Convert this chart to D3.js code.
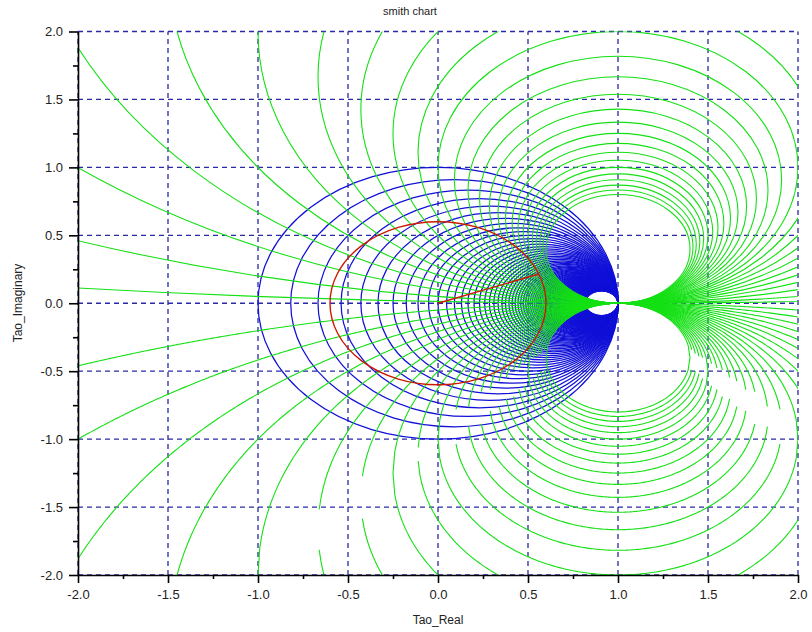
<!DOCTYPE html>
<html><head><meta charset="utf-8">
<script src="https://cdn.jsdelivr.net/npm/d3@7"></script>
<style>
body{margin:0;background:#fff;}
text{font-family:"Liberation Sans",Arial,Helvetica,sans-serif;}
</style>
</head><body>
<svg id="chart" width="812" height="632"></svg>
<script>
// ---- data ----
const resistanceValues = [0,0.1,0.2,0.3,0.4,0.5,0.6,0.7,0.8,0.9,
1,1.1,1.2,1.3,1.4,1.5,1.6,1.7,1.8,1.9,2,2.1,2.2,2.3,2.4,2.5,2.6,2.7,2.8,2.9,
3,3.1,3.2,3.3,3.4,3.5,3.6,3.7,3.8,3.9,4,4.1,4.2,4.3,4.4,4.5,4.6,4.7,4.8,4.9,
5,5.1,5.2,5.3,5.4,5.5,5.6,5.7,5.8,5.9,6,6.1,6.2,6.3,6.4,6.5,6.6,6.7,6.8,6.9,
7,7.1,7.2,7.3,7.4,7.5,7.6,7.7,7.8,7.9,8,8.1,8.2,8.3,8.4,8.5,8.6,8.7,8.8,8.9,
9,9.1,9.2,9.3,9.4,9.5,9.6,9.7,9.8,9.9,10];
const reactancePositive = [0.025,0.1,0.2,0.3,0.4,0.5,0.6,0.7,0.8,0.9,
1,1.1,1.2,1.3,1.4,1.5,1.6,1.7,1.8,1.9,2,2.1,2.2,2.3,2.4,2.5];
const reactanceNegative = [-0.1,-0.2,-0.3,-0.4,-0.5,-0.6,-0.7,-0.8,-0.9,
-1,-1.1,-1.2,-1.3,-1.4,-1.5,-1.6,-1.7,-1.8,-1.9,-2,-2.1,-2.2,-2.3,-2.4,-2.5];
const loadReflectionMagnitude = 0.6;
const loadReflectionAngleDeg = 21;
const majorTicks = [-2,-1.5,-1,-0.5,0,0.5,1,1.5,2];
const minorTicks = [-1.75,-1.25,-0.75,-0.25,0.25,0.75,1.25,1.75];
const titleText = "smith chart";
const xLabelText = "Tao_Real";
const yLabelText = "Tao_Imaginary";
const samplesPerUnit = 100;   // u-grid used to trace the lower reactance circles

// ---- layout ----
const svg = d3.select("#chart");
const L = 78, R = 798, T = 31.5, B = 575;
const xs = d3.scaleLinear().domain([-2, 2]).range([L, R]);
const ys = d3.scaleLinear().domain([-2, 2]).range([B, T]);

svg.append("defs").append("clipPath").attr("id", "plotclip")
  .append("rect").attr("x", L).attr("y", T).attr("width", R - L).attr("height", B - T);

// grid
const grid = svg.append("g").attr("stroke", "#2a2aa6").attr("stroke-width", 1.3)
  .attr("stroke-dasharray", "5,4");
majorTicks.forEach(v => {
  grid.append("line").attr("x1", xs(v)).attr("x2", xs(v)).attr("y1", ys(-2)).attr("y2", ys(2));
  grid.append("line").attr("y1", ys(v)).attr("y2", ys(v)).attr("x1", xs(-2)).attr("x2", xs(2));
});

// trace a circle on a u grid as two half-curves
function halves(cu, cv, rad) {
  const k0 = Math.max(-210, Math.ceil((cu - rad) * samplesPerUnit - 1e-9));
  const k1 = Math.min(210, Math.floor((cu + rad) * samplesPerUnit + 1e-9));
  const up = [], lo = [];
  for (let k = k0; k <= k1; k++) {
    const u = k / samplesPerUnit;
    const s = Math.sqrt(Math.max(0, rad * rad - (u - cu) * (u - cu)));
    up.push([u, cv + s]); lo.push([u, cv - s]);
  }
  return [up, lo];
}
const line = d3.line().x(d => xs(d[0])).y(d => ys(d[1]));
const plot = svg.append("g").attr("clip-path", "url(#plotclip)");
function ellipse(g, cu, cv, rad) {
  g.append("ellipse").attr("cx", xs(cu)).attr("cy", ys(cv))
    .attr("rx", xs(rad) - xs(0)).attr("ry", ys(0) - ys(rad));
}

// resistance circles (blue)
const gB = plot.append("g").attr("fill", "none").attr("stroke", "#1010d8").attr("stroke-width", 1.25);
resistanceValues.forEach(rv => ellipse(gB, rv / (1 + rv), 0, 1 / (1 + rv)));

// reactance circles (green)
const gG = plot.append("g").attr("fill", "none").attr("stroke", "#14e014").attr("stroke-width", 1.1);
reactancePositive.forEach(xv => ellipse(gG, 1, 1 / xv, 1 / xv));
reactanceNegative.forEach(xv => {
  const rho = 1 / xv;
  halves(1, rho, Math.abs(rho)).forEach(h => gG.append("path").attr("d", line(h)));
});

// constant |Gamma| circle and load vector (red)
plot.append("ellipse").attr("cx", xs(0)).attr("cy", ys(0))
  .attr("rx", xs(loadReflectionMagnitude) - xs(0)).attr("ry", ys(0) - ys(loadReflectionMagnitude))
  .attr("fill", "none").attr("stroke", "#cc1a00").attr("stroke-width", 1.4);
const ang = loadReflectionAngleDeg * Math.PI / 180;
plot.append("line").attr("x1", xs(0)).attr("y1", ys(0))
  .attr("x2", xs(loadReflectionMagnitude * Math.cos(ang)))
  .attr("y2", ys(loadReflectionMagnitude * Math.sin(ang)))
  .attr("stroke", "#cc1a00").attr("stroke-width", 1.4);

// axes
const fmt = d => d.toFixed(1);
svg.append("g").attr("transform", `translate(0,${B})`)
  .call(d3.axisBottom(xs).tickValues(majorTicks).tickFormat(fmt).tickSize(8).tickSizeOuter(0).tickPadding(7));
svg.append("g").attr("transform", `translate(0,${B})`)
  .call(d3.axisBottom(xs).tickValues(minorTicks).tickFormat("").tickSize(4).tickSizeOuter(0))
  .select(".domain").remove();
svg.append("g").attr("transform", `translate(${L},0)`)
  .call(d3.axisLeft(ys).tickValues(majorTicks).tickFormat(fmt).tickSize(9).tickSizeOuter(0).tickPadding(6));
svg.append("g").attr("transform", `translate(${L},0)`)
  .call(d3.axisLeft(ys).tickValues(minorTicks).tickFormat("").tickSize(5).tickSizeOuter(0))
  .select(".domain").remove();
svg.selectAll(".tick text").attr("font-size", 13).attr("fill", "#222")
  .attr("font-family", "'Liberation Sans',Arial,sans-serif");
svg.selectAll(".domain,.tick line").attr("stroke", "#000").attr("stroke-width", 1.6);

// texts
svg.append("text").attr("x", 410).attr("y", 15).attr("text-anchor", "middle")
  .attr("font-size", 11).attr("fill", "#222").text(titleText);
svg.append("text").attr("x", 438).attr("y", 624).attr("text-anchor", "middle")
  .attr("font-size", 12).attr("fill", "#222").text(xLabelText);
svg.append("text").attr("transform", "translate(22,303) rotate(-90)").attr("text-anchor", "middle")
  .attr("font-size", 12).attr("fill", "#222").text(yLabelText);
</script>
</body></html>
